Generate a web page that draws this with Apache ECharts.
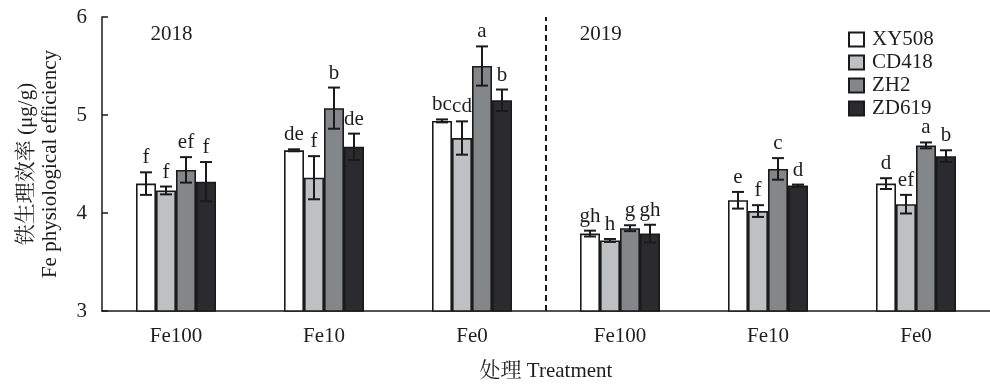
<!DOCTYPE html>
<html>
<head>
<meta charset="utf-8">
<script src="https://cdn.jsdelivr.net/npm/echarts@6/dist/echarts.min.js"></script>
<style>html,body{margin:0;padding:0;background:#fff}#c{width:990px;height:387px}</style>
</head>
<body>
<div id="c"></div>
<script>
// ---- data ----
const categories = ['Fe100', 'Fe10', 'Fe0', 'Fe100', 'Fe10', 'Fe0'];
const seriesNames = ['XY508', 'CD418', 'ZH2', 'ZD619'];
const XY508 = [4.30, 4.64, 4.94, 3.79, 4.13, 4.30];
const CD418 = [4.23, 4.36, 4.765, 3.72, 4.02, 4.09];
const ZH2 = [4.44, 5.07, 5.50, 3.845, 4.45, 4.69];
const ZD619 = [4.32, 4.675, 5.15, 3.79, 4.28, 4.58];
const XY508_err = [0.115, 0.01, 0.015, 0.03, 0.085, 0.055];
const CD418_err = [0.04, 0.22, 0.17, 0.015, 0.06, 0.095];
const ZH2_err = [0.13, 0.21, 0.20, 0.03, 0.11, 0.03];
const ZD619_err = [0.20, 0.135, 0.11, 0.09, 0.01, 0.06];
const XY508_sig = ['f', 'de', 'bc', 'gh', 'e', 'd'];
const CD418_sig = ['f', 'f', 'cd', 'h', 'f', 'ef'];
const ZH2_sig = ['ef', 'b', 'a', 'g', 'c', 'a'];
const ZD619_sig = ['f', 'de', 'b', 'gh', 'd', 'b'];
const yearLabels = ['2018', '2019'];
const yearPos = [[0.47, 5.82], [3.37, 5.82]];
const separatorAt = 3;
const yTicks = [3, 4, 5, 6];

// ---- styling ----
const FONT = '"Liberation Serif", "Times New Roman", "Noto Serif CJK SC", "Noto Sans CJK SC", serif';
const FS = 21;
const INK = '#1a1a1a';
const TXT = '#1e1e1e';
const colors = ['#ffffff', '#bfc0c2', '#858688', '#2b2a2c'];
const BAR_W = 20;

const values = [XY508, CD418, ZH2, ZD619];
const errs = [XY508_err, CD418_err, ZH2_err, ZD619_err];
const sigs = [XY508_sig, CD418_sig, ZH2_sig, ZD619_sig];

const series = [];
seriesNames.forEach((name, i) => {
  series.push({
    name: name,
    type: 'bar',
    data: values[i],
    barWidth: BAR_W,
    barGap: '0%',
    itemStyle: { color: colors[i], borderColor: INK, borderWidth: 1.6 },
    z: 2
  });
});
seriesNames.forEach((name, i) => {
  series.push({
    name: name + '-err',
    type: 'custom',
    z: 5,
    data: values[i].map((v, k) => [k, v, errs[i][k]]),
    renderItem: function (params, api) {
      const idx = api.value(0), m = api.value(1), e = api.value(2);
      const letter = sigs[i][params.dataIndex];
      const off = (i - 1.5) * BAR_W;
      const top = api.coord([idx, m + e]);
      const bot = api.coord([idx, m - e]);
      const x = top[0] + off;
      const cap = 6;
      const ls = { stroke: INK, lineWidth: 2 };
      return {
        type: 'group',
        children: [
          { type: 'line', shape: { x1: x, y1: top[1], x2: x, y2: bot[1] }, style: ls },
          { type: 'line', shape: { x1: x - cap, y1: top[1], x2: x + cap, y2: top[1] }, style: ls },
          { type: 'line', shape: { x1: x - cap, y1: bot[1], x2: x + cap, y2: bot[1] }, style: ls },
          { type: 'text', style: { text: letter, x: x, y: top[1] - 4, align: 'center', verticalAlign: 'bottom', font: FS + 'px ' + FONT, fill: TXT } }
        ]
      };
    }
  });
});
// dashed separator between years
series.push({
  name: 'sep', type: 'line', xAxisIndex: 1, yAxisIndex: 0,
  data: [[separatorAt, yTicks[0]], [separatorAt, yTicks[yTicks.length - 1]]],
  symbol: 'none', lineStyle: { color: INK, width: 2, type: [6, 4] }, z: 1
});
// year labels
series.push({
  name: 'years', type: 'custom', xAxisIndex: 1, yAxisIndex: 0,
  data: yearPos.map((p, k) => [p[0], p[1], k]),
  renderItem: function (params, api) {
    const pt = api.coord([api.value(0), api.value(1)]);
    return { type: 'text', style: { text: yearLabels[params.dataIndex], x: pt[0], y: pt[1], align: 'center', verticalAlign: 'middle', font: FS + 'px ' + FONT, fill: TXT } };
  }
});

const chart = echarts.init(document.getElementById('c'), null, { renderer: 'canvas' });
chart.setOption({
  animation: false,
  backgroundColor: '#fff',
  textStyle: { fontFamily: FONT },
  grid: { left: 102, right: 0, top: 17, bottom: 69, containLabel: false },
  legend: {
    data: seriesNames,
    orient: 'vertical',
    left: 843, top: 24,
    itemWidth: 15, itemHeight: 14, itemGap: 2,
    icon: 'rect',
    textStyle: { fontFamily: FONT, fontSize: FS, color: TXT, lineHeight: 21, padding: [0, 0, 0, 3] }
  },
  xAxis: [{
    type: 'category',
    data: categories,
    name: '处理 Treatment',
    nameLocation: 'middle',
    nameGap: 50,
    nameTextStyle: { fontFamily: FONT, fontSize: FS, color: TXT },
    axisLine: { lineStyle: { color: INK, width: 1.5 } },
    axisTick: { inside: true, length: 4, lineStyle: { color: INK, width: 1.5 } },
    axisLabel: { fontFamily: FONT, fontSize: FS, color: TXT, margin: 15 },
    splitLine: { show: false }
  }, {
    type: 'value', min: 0, max: categories.length, show: false
  }],
  yAxis: {
    type: 'value',
    min: yTicks[0], max: yTicks[yTicks.length - 1], interval: 1,
    name: '铁生理效率 (μg/g)\nFe physiological efficiency',
    nameLocation: 'middle',
    nameGap: 40,
    nameTextStyle: { fontFamily: FONT, fontSize: FS, color: TXT, lineHeight: 24 },
    axisLine: { show: true, lineStyle: { color: INK, width: 1.5 } },
    axisTick: { show: true, inside: true, length: 6, lineStyle: { color: INK, width: 1.5 } },
    axisLabel: { fontFamily: FONT, fontSize: FS, color: TXT, margin: 15 },
    splitLine: { show: false }
  },
  series: series
});
</script>
</body>
</html>
